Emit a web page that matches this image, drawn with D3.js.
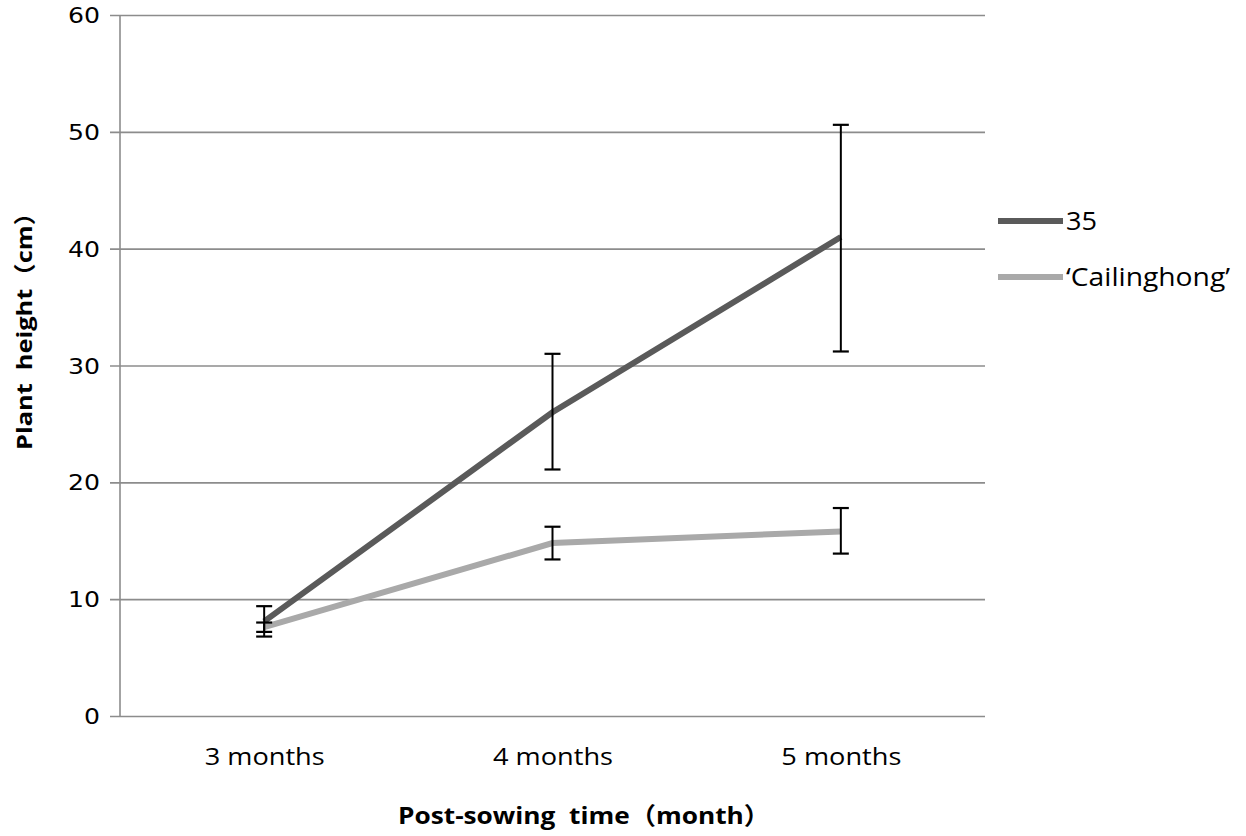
<!DOCTYPE html>
<html>
<head>
<meta charset="utf-8">
<script src="https://cdn.jsdelivr.net/npm/d3@7"></script>
<style>
  body { margin: 0; background: #fff; }
  text { fill: #000; }
</style>
</head>
<body>
<div id="chart"></div>
<script>
// data
var months = ["3 months", "4 months", "5 months"];
var yTicks = [0, 10, 20, 30, 40, 50, 60];
var seriesNames = ["35", "\u2018Cailinghong\u2019"];
var height35 = [8.1, 26.0, 41.0];
var err35Low = [6.8, 21.1, 31.2];
var err35High = [9.4, 31.0, 50.6];
var heightCai = [7.6, 14.8, 15.8];
var errCaiLow = [7.2, 13.4, 13.9];
var errCaiHigh = [8.0, 16.2, 17.8];

var svgWidth = 1246;
var svgHeight = 836;

var margin = { top: 15, right: 261, bottom: 120, left: 120 };
var width = svgWidth - margin.left - margin.right;
var height = svgHeight - margin.top - margin.bottom;

var svg = d3.select("#chart")
  .append("svg")
  .attr("width", svgWidth)
  .attr("height", svgHeight);

var chartGroup = svg.append("g")
  .attr("transform", `translate(${margin.left}, ${margin.top})`);

var xScale = d3.scalePoint()
  .domain(months)
  .range([0, width])
  .padding(0.5);

var yScale = d3.scaleLinear()
  .domain([0, 60])
  .range([height, 0]);

// gridlines + left ticks
var leftAxis = d3.axisLeft(yScale)
  .tickValues(yTicks)
  .tickSize(-width - 10)
  .tickPadding(10)
  .tickFormat(d3.format("d"));

var yAxis = chartGroup.append("g")
  .attr("transform", "translate(-10,0)")
  .call(leftAxis);
yAxis.select(".domain").remove();
yAxis.selectAll("line").attr("stroke", "#8c8c8c").attr("stroke-width", 1.6);
yAxis.selectAll("text")
  .attr("font-family", "DejaVu Sans")
  .attr("font-size", 21)
  .attr("dy", "0.36em")
  .attr("textLength", d => String(d).length * 16)
  .attr("lengthAdjust", "spacingAndGlyphs");

// vertical axis line
chartGroup.append("line")
  .attr("x1", 0).attr("x2", 0)
  .attr("y1", 0).attr("y2", height)
  .attr("stroke", "#8c8c8c")
  .attr("stroke-width", 1.6);

// x labels
var bottomAxis = d3.axisBottom(xScale).tickSize(0).tickPadding(33);
var xAxis = chartGroup.append("g")
  .attr("transform", `translate(0, ${height})`)
  .call(bottomAxis);
xAxis.select(".domain").remove();
xAxis.selectAll("text")
  .attr("font-family", "Open Sans")
  .attr("font-size", 23)
  .attr("textLength", 120)
  .attr("lengthAdjust", "spacingAndGlyphs");

// lines
var lineGen = d3.line()
  .x((d, i) => xScale(months[i]))
  .y(d => yScale(d));

var series = [
  { name: seriesNames[0], vals: height35, lo: err35Low, hi: err35High, color: "#5a5a5a", len: 31 },
  { name: seriesNames[1], vals: heightCai, lo: errCaiLow, hi: errCaiHigh, color: "#a9a9a9", len: 164 }
];

series.slice().reverse().forEach(function(s) {
  chartGroup.append("path")
    .datum(s.vals)
    .attr("d", lineGen)
    .attr("fill", "none")
    .attr("stroke", s.color)
    .attr("stroke-width", 6);
});

// error bars
series.forEach(function(s) {
  var g = chartGroup.append("g");
  months.forEach(function(m, i) {
    var x = xScale(m);
    g.append("line")
      .attr("x1", x).attr("x2", x)
      .attr("y1", yScale(s.lo[i])).attr("y2", yScale(s.hi[i]))
      .attr("stroke", "#000").attr("stroke-width", 2);
    [s.lo[i], s.hi[i]].forEach(function(v) {
      g.append("line")
        .attr("x1", x - 8).attr("x2", x + 8)
        .attr("y1", yScale(v)).attr("y2", yScale(v))
        .attr("stroke", "#000").attr("stroke-width", 2.2);
    });
  });
});

// legend
var legend = svg.append("g");
series.forEach(function(s, i) {
  var y = 221 + i * 56;
  legend.append("line")
    .attr("x1", 998).attr("x2", 1063)
    .attr("y1", y).attr("y2", y)
    .attr("stroke", s.color)
    .attr("stroke-width", 6);
  legend.append("text")
    .attr("x", 1066)
    .attr("y", y)
    .attr("dy", "0.36em")
    .attr("font-family", "Open Sans")
    .attr("font-size", 25)
    .attr("textLength", s.len)
    .attr("lengthAdjust", "spacingAndGlyphs")
    .text(s.name);
});

// axis titles
svg.append("text")
  .attr("transform", "rotate(-90)")
  .attr("x", -325)
  .attr("y", 32)
  .attr("text-anchor", "middle")
  .attr("font-family", "Open Sans, Noto Sans CJK SC")
  .attr("font-weight", "bold")
  .attr("font-size", 22)
  .attr("xml:space", "preserve")
  .attr("textLength", 250)
  .attr("lengthAdjust", "spacingAndGlyphs")
  .text("Plant  height\uff08cm\uff09");

svg.append("text")
  .attr("x", 584)
  .attr("y", 824)
  .attr("text-anchor", "middle")
  .attr("font-family", "Open Sans, Noto Sans CJK SC")
  .attr("font-weight", "bold")
  .attr("font-size", 24)
  .attr("xml:space", "preserve")
  .attr("textLength", 372)
  .attr("lengthAdjust", "spacingAndGlyphs")
  .text("Post-sowing  time\uff08month\uff09");
</script>
</body>
</html>
